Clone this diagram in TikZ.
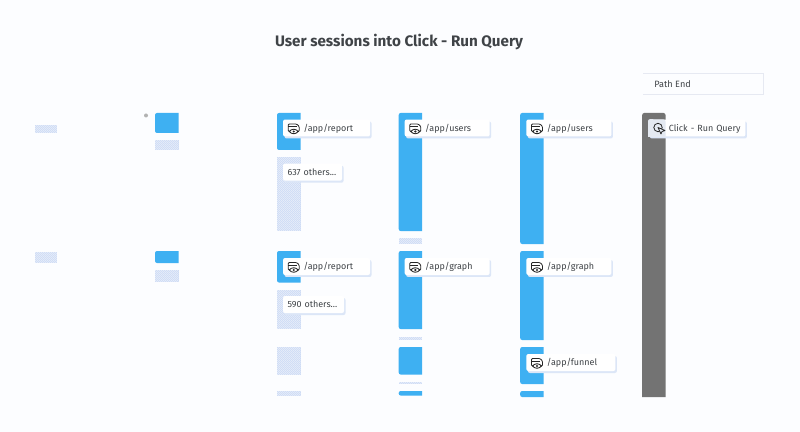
\documentclass[tikz,border=0pt]{standalone}
\usepackage{fontspec}
\setmainfont{Fira Sans}
\usetikzlibrary{shadows,patterns}

\definecolor{pagebg}{HTML}{FCFDFF}
\definecolor{barblue}{HTML}{3EB0F2}
\definecolor{bargray}{HTML}{737373}
\definecolor{hatchblue}{HTML}{CCDAF5}
\definecolor{shadeblue}{HTML}{DCE6F7}
\definecolor{clickbg}{HTML}{E4E9F1}
\definecolor{linegray}{HTML}{E6E9F2}
\definecolor{inkgray}{HTML}{3F4347}

\pgfdeclarepatternformonly{finedots}{\pgfpointorigin}{\pgfqpoint{1.138pt}{1.138pt}}{\pgfqpoint{1.138pt}{1.138pt}}{
    \pgfpathrectangle{\pgfqpoint{0pt}{0pt}}{\pgfqpoint{0.4pt}{0.4pt}}
    \pgfpathrectangle{\pgfqpoint{0.569pt}{0.569pt}}{\pgfqpoint{0.4pt}{0.4pt}}
    \pgfusepath{fill}
}

\tikzset{
    pagebox/.style={fill=white, rounded corners=0.04cm, inner xsep=0pt, inner ysep=0pt,
        minimum height=0.34cm, anchor=west, align=left, text width=#1*0.02cm,
        text=inkgray, font={\fontsize{5.1}{6}\selectfont},
        general shadow={shadow xshift=0.03cm, shadow yshift=-0.04cm, fill=shadeblue},
        execute at begin node={\hspace*{0.41cm}\rule[-1.2pt]{0pt}{6.2pt}}},
    otherbox/.style={pagebox=#1, execute at begin node={\hspace*{-0.32cm}\rule[-1.2pt]{0pt}{6.2pt}}},
    pics/pageicon/.style={code={
        \draw[black!85, line width=0.45pt, line join=round, rounded corners=0.02cm]
            (-3.5,3.5) -- (-5.5,3.5) -- (-5.5,-4) -- (3,-4) -- (5.5,-1.5) -- (5.5,3.5) -- (3.5,3.5);
        \draw[black!85, line width=0.4pt] (-5.5,-1.5) -- (3,-1.5);
        \draw[black!85, line width=0.5pt] (-4.5,3.5) .. controls (-2,0.5) and (2,0.5) .. (4.5,3.5)
            .. controls (2,6.5) and (-2,6.5) .. (-4.5,3.5);
        \fill[black!85] (0,3.5) circle (1.2);
    }},
    pics/clickicon/.style={code={
        \draw[black!85, line width=0.45pt] (-1,-0.5) circle (4.2);
        \fill[clickbg] (-1,-0.5) -- (6,2.5) -- (3,3.5) -- (2,6) -- cycle;
        \draw[black!85, line width=0.45pt, line join=round] (-1,-0.5) -- (6,2.5) -- (3,3.5) -- (2,6) -- cycle;
    }},
}

\begin{document}
\begin{tikzpicture}[x=0.02cm, y=-0.02cm]
    \fill[pagebg] (0,0) rectangle (800,432);

    % blue stages: left, top, bottom
    \foreach \sx/\ytop/\ybot in {155/113/133, 155/251/263,
            277/113/150, 277/251/282.5,
            398.7/113/231, 398.7/251/329, 398.7/347/374.5, 398.7/391/395.5,
            520.2/113/244, 520.2/251/340, 520.2/347/384, 520.2/391/397}
        \fill[barblue] ({\sx+23.5},\ytop) [rounded corners=0.04cm] -- (\sx,\ytop) -- (\sx,\ybot) [sharp corners] -- ({\sx+23.5},\ybot) -- cycle;

    % dropped stages
    \foreach \sx/\ytop/\ybot in {35/125.5/133, 35/252/263,
            155/140/150, 155/270/282,
            277/157.5/231, 277/290/329, 277/347/374.5, 277/391/396,
            398.7/238/244, 398.7/336.5/340, 398.7/382/384}{
        \fill[hatchblue] (\sx,\ytop) rectangle ({\sx+(\sx==35 ? 22 : 23.5)},\ybot);
        \fill[pattern=finedots, pattern color=white] (\sx,\ytop) rectangle ({\sx+(\sx==35 ? 22 : 23.5)},\ybot);
    }

    \fill[gray!60] (146,115.5) circle (2);
    \fill[bargray] (665.5,397) -- (642.2,397) [rounded corners=0.04cm] -- (642.2,113) -- (665.5,113) [sharp corners] -- cycle;

    \draw[linegray, line width=0.5pt] (643,73) -- (763,73) -- (763,94.5) -- (643,94.5);

    \node[text=inkgray, font={\fontsize{8.65}{10}\selectfont\bfseries}] (title) at (399,42) {User sessions into Click - Run Query};
    \node[text=inkgray, anchor=west, inner sep=0pt, font={\fontsize{5.2}{6}\selectfont}] (pathend) at (654,84) {Path End};

    \node[pagebox=87] (report1) at (282.7,128) {/app/report};
    \node[pagebox=85] (users1) at (404.3,128) {/app/users};
    \node[pagebox=85] (users2) at (526,128) {/app/users};
    \node[pagebox=87] (report2) at (282.7,266.5) {/app/report};
    \node[pagebox=85] (graph1) at (404.3,266.5) {/app/graph};
    \node[pagebox=85] (graph2) at (526,266.5) {/app/graph};
    \node[pagebox=89] (funnel) at (526,362.5) {/app/funnel};
    \node[pagebox=97] (clickquery) at (648,128) {Click - Run Query};

    \node[otherbox=59] (others1) at (282.7,172.2) {637 others...};
    \node[otherbox=61] (others2) at (282.7,304.5) {590 others...};

    \fill[clickbg, rounded corners=0.04cm] (clickquery.south west) -- (clickquery.north west) -- (665.5,119.5) [sharp corners] -- (665.5,136.5) -- cycle;

    \pic at ([xshift=0.22cm]report1.west) {pageicon};
    \pic at ([xshift=0.22cm]users1.west) {pageicon};
    \pic at ([xshift=0.22cm]users2.west) {pageicon};
    \pic at ([xshift=0.22cm]report2.west) {pageicon};
    \pic at ([xshift=0.22cm]graph1.west) {pageicon};
    \pic at ([xshift=0.22cm]graph2.west) {pageicon};
    \pic at ([xshift=0.22cm]funnel.west) {pageicon};
    \pic at ([xshift=0.22cm]clickquery.west) {clickicon};
\end{tikzpicture}
\end{document}
